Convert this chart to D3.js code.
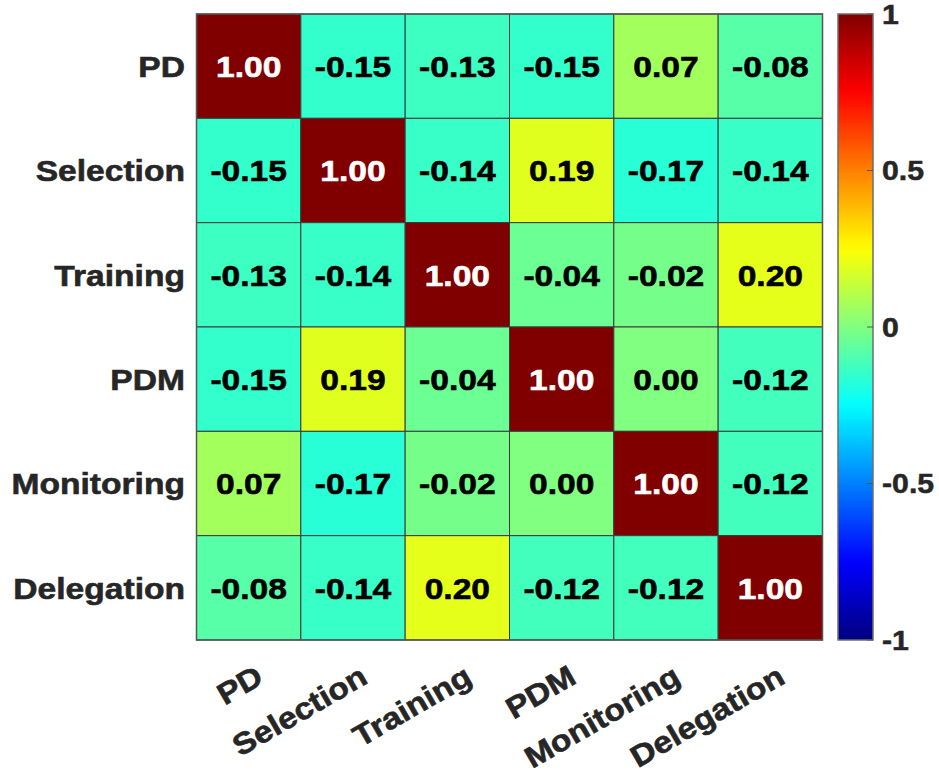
<!DOCTYPE html>
<html>
<head>
<meta charset="utf-8">
<script src="https://cdn.jsdelivr.net/npm/d3@7"></script>
<style>
  html, body { margin: 0; padding: 0; background: #fff; }
  svg { display: block; }
  text { font-family: Arial, "Liberation Sans", sans-serif; font-weight: bold; }
</style>
</head>
<body>
<svg id="chart" width="939" height="770"></svg>
<script>
// Variables in the correlation matrix (rows top to bottom, columns left to right)
const variables = ["PD", "Selection", "Training", "PDM", "Monitoring", "Delegation"];

// Correlation coefficients, one array per row
const rowPD         = [ 1.00, -0.15, -0.13, -0.15,  0.07, -0.08];
const rowSelection  = [-0.15,  1.00, -0.14,  0.19, -0.17, -0.14];
const rowTraining   = [-0.13, -0.14,  1.00, -0.04, -0.02,  0.20];
const rowPDM        = [-0.15,  0.19, -0.04,  1.00,  0.00, -0.12];
const rowMonitoring = [ 0.07, -0.17, -0.02,  0.00,  1.00, -0.12];
const rowDelegation = [-0.08, -0.14,  0.20, -0.12, -0.12,  1.00];
const matrix = [rowPD, rowSelection, rowTraining, rowPDM, rowMonitoring, rowDelegation];

// Colour bar ticks
const colorbarTicks = [1, 0.5, 0, -0.5, -1];
const colorbarTickLabels = ["1", "0.5", "0", "-0.5", "-1"];

// Jet colormap (MATLAB style)
function jet(t) {
  const c = v => Math.max(0, Math.min(1, v));
  const r = c(1.5 - Math.abs(4 * t - 3));
  const g = c(1.5 - Math.abs(4 * t - 2));
  const b = c(1.5 - Math.abs(4 * t - 1));
  return d3.rgb(r * 255, g * 255, b * 255).formatHex();
}
const color = d3.scaleSequential(jet).domain([-1, 1]);

// Two decimals with a plain hyphen for negatives
const fmt = v => v.toFixed(2).replace("−", "-");

const svg = d3.select("#chart");
const plot = { left: 196.5, top: 14, size: 626 };

const x = d3.scaleBand().domain(variables).range([plot.left, plot.left + plot.size]);
const y = d3.scaleBand().domain(variables).range([plot.top, plot.top + plot.size]);

const cells = [];
matrix.forEach((row, i) => row.forEach((v, j) => cells.push({ r: variables[i], c: variables[j], v })));

// Heatmap cells
svg.append("g").selectAll("rect").data(cells).join("rect")
  .attr("x", d => x(d.c))
  .attr("y", d => y(d.r))
  .attr("width", x.bandwidth())
  .attr("height", y.bandwidth())
  .attr("fill", d => color(d.v))
  .attr("stroke", "#3a3a3a")
  .attr("stroke-width", 1);

// Outer frame
svg.append("rect")
  .attr("x", plot.left).attr("y", plot.top)
  .attr("width", plot.size).attr("height", plot.size)
  .attr("fill", "none").attr("stroke", "#555").attr("stroke-width", 1.5);

// Values in each cell
const stretch = 1.12;
svg.append("g").selectAll("text").data(cells).join("text")
  .attr("transform", d => `translate(${x(d.c) + x.bandwidth() / 2},${y(d.r) + y.bandwidth() / 2}) scale(${stretch},1)`)
  .attr("text-anchor", "middle")
  .attr("dy", "0.36em")
  .attr("font-size", 30)
  .attr("fill", d => d.v > 0.6 ? "#fff" : "#000")
  .attr("stroke", d => d.v > 0.6 ? "#fff" : "#000")
  .attr("stroke-width", 0.6)
  .text(d => fmt(d.v));

// Row labels
svg.append("g").selectAll("text").data(variables).join("text")
  .attr("transform", d => `translate(185,${y(d) + y.bandwidth() / 2}) scale(${stretch},1)`)
  .attr("text-anchor", "end")
  .attr("dy", "0.36em")
  .attr("font-size", 30)
  .attr("fill", "#262626")
  .attr("stroke", "#262626")
  .attr("stroke-width", 0.6)
  .text(d => d);

// Column labels, rotated
svg.append("g").selectAll("text").data(variables).join("text")
  .attr("transform", d => `translate(${x(d) + x.bandwidth() / 2 + 11},673) rotate(-30) scale(${stretch},1)`)
  .attr("text-anchor", "end")
  .attr("dy", "0.36em")
  .attr("font-size", 30)
  .attr("fill", "#262626")
  .attr("stroke", "#262626")
  .attr("stroke-width", 0.6)
  .text(d => d);

// Colour bar
const cb = { x: 838, width: 35 };
const cbScale = d3.scaleLinear().domain([-1, 1]).range([plot.top + plot.size, plot.top]);
const defs = svg.append("defs");
const grad = defs.append("linearGradient").attr("id", "jetGrad")
  .attr("x1", 0).attr("y1", 1).attr("x2", 0).attr("y2", 0);
d3.range(0, 1.0001, 0.02).forEach(t => {
  grad.append("stop").attr("offset", t).attr("stop-color", jet(t));
});
svg.append("rect")
  .attr("x", cb.x).attr("y", cbScale(1))
  .attr("width", cb.width).attr("height", cbScale(-1) - cbScale(1))
  .attr("fill", "url(#jetGrad)")
  .attr("stroke", "#6e6e6e").attr("stroke-width", 1.5);

// Colour bar tick marks (inside right edge) and labels
svg.append("g").selectAll("line").data(colorbarTicks).join("line")
  .attr("x1", cb.x + cb.width - 6).attr("x2", cb.x + cb.width)
  .attr("y1", d => cbScale(d)).attr("y2", d => cbScale(d))
  .attr("stroke", "#555").attr("stroke-width", 1);

svg.append("g").selectAll("text").data(colorbarTicks).join("text")
  .attr("transform", d => `translate(882,${cbScale(d)}) scale(1.12,1)`)
  .attr("dy", "0.36em")
  .attr("font-size", 27)
  .attr("fill", "#262626")
  .attr("stroke", "#262626")
  .attr("stroke-width", 0.5)
  .text((d, i) => colorbarTickLabels[i]);
</script>
</body>
</html>
